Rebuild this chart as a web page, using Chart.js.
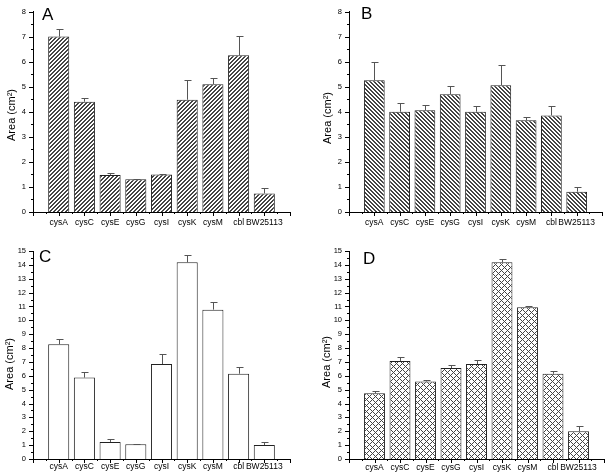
<!DOCTYPE html>
<html>
<head>
<meta charset="UTF-8">
<title>cys mutants area</title>
<script src="https://cdn.jsdelivr.net/npm/chart.js"></script>
<style>
  body { margin: 0; background: #fff; }
  canvas { position: absolute; }
</style>
</head>
<body>
<canvas id="chartA" width="300" height="237" style="left:0;top:0"></canvas>
<canvas id="chartB" width="308" height="237" style="left:300px;top:0"></canvas>
<canvas id="chartC" width="300" height="237" style="left:0;top:237px"></canvas>
<canvas id="chartD" width="308" height="237" style="left:300px;top:237px"></canvas>
<script>
const strains = ['cysA', 'cysC', 'cysE', 'cysG', 'cysI', 'cysK', 'cysM', 'cbl', 'BW25113'];

const areaA = [7.0, 4.40, 1.48, 1.31, 1.50, 4.48, 5.10, 6.25, 0.74];
const errA  = [0.30, 0.16, 0.07, 0.02, 0.03, 0.77, 0.23, 0.77, 0.20];

const areaB = [5.26, 4.00, 4.06, 4.70, 4.00, 5.06, 3.66, 3.85, 0.81];
const errB  = [0.71, 0.36, 0.21, 0.34, 0.22, 0.82, 0.15, 0.39, 0.19];

const areaC = [8.27, 5.87, 1.23, 1.06, 6.85, 14.18, 10.77, 6.15, 1.01];
const errC  = [0.36, 0.40, 0.24, 0.04, 0.72, 0.50, 0.55, 0.48, 0.19];

const areaD = [4.74, 7.07, 5.58, 6.56, 6.85, 14.18, 10.94, 6.15, 2.00];
const errD  = [0.17, 0.26, 0.14, 0.22, 0.29, 0.22, 0.12, 0.17, 0.40];

const yMaxTop = 8;
const yMaxBottom = 15;

// hatch fills
function hatch(size, test) {
  const c = document.createElement('canvas');
  c.width = size; c.height = size;
  const g = c.getContext('2d');
  g.fillStyle = '#fff';
  g.fillRect(0, 0, size, size);
  g.fillStyle = '#444';
  for (let x = 0; x < size; x++)
    for (let y = 0; y < size; y++)
      if (test(x, y)) g.fillRect(x, y, 1, 1);
  return g.createPattern(c, 'repeat');
}
const fillA = hatch(4, (x, y) => (x + y) % 4 < 2);
const fillB = hatch(4, (x, y) => (x - y + 8) % 4 < 2);
const fillD = hatch(6, (x, y) => (x + y) % 6 === 0 || (x - y + 6) % 6 === 0);

// error bars, ticks, titles, panel letters
const extras = {
  id: 'extras',
  afterDatasetsDraw(chart) {
    const o = chart.options.plugins.extras;
    const {ctx, chartArea: a} = chart;
    const ys = chart.scales.y;
    ctx.save();
    // error bars
    ctx.strokeStyle = '#555';
    ctx.lineWidth = 1;
    chart.getDatasetMeta(0).data.forEach((bar, i) => {
      const k = i - 1;
      if (k < 0 || k >= o.vals.length) return;
      const yTop = Math.round(ys.getPixelForValue(o.vals[k] + o.errs[k])) + 0.5;
      const x = Math.round(bar.x) + 0.5;
      ctx.beginPath();
      ctx.moveTo(x, bar.y);
      ctx.lineTo(x, yTop);
      ctx.moveTo(x - 3, yTop);
      ctx.lineTo(x + 4, yTop);
      ctx.stroke();
    });
    // axis ticks
    ctx.strokeStyle = '#000';
    ctx.beginPath();
    for (let v = 0; v <= o.max; v += 0.5) {
      const y = Math.round(ys.getPixelForValue(v)) + 0.5;
      const len = v % 1 === 0 ? 4 : 2;
      ctx.moveTo(a.left - len, y);
      ctx.lineTo(a.left, y);
    }
    for (let v = 0; v <= 10; v += 0.5) {
      const x = Math.round(a.left + (a.right - a.left) * v / 10) + 0.5;
      const len = v % 1 === 0 ? 4 : 2;
      ctx.moveTo(x, a.bottom);
      ctx.lineTo(x, a.bottom + len);
    }
    ctx.stroke();
    // y title
    ctx.fillStyle = '#000';
    ctx.font = '11px "Liberation Sans", Arial, sans-serif';
    ctx.textAlign = 'center';
    ctx.textBaseline = 'middle';
    ctx.translate(o.titleX, o.titleY);
    ctx.rotate(-Math.PI / 2);
    ctx.fillText('Area (cm²)', 0, 0);
    ctx.setTransform(1, 0, 0, 1, 0, 0);
    // panel letter
    ctx.font = '17px "Liberation Sans", Arial, sans-serif';
    ctx.textAlign = 'left';
    ctx.textBaseline = 'alphabetic';
    ctx.fillText(o.letter, o.letterX, o.letterY);
    ctx.restore();
  }
};

function makeChart(id, vals, errs, fill, max, p) {
  new Chart(document.getElementById(id), {
    type: 'bar',
    data: {
      labels: ['', ...strains, ''],
      datasets: [{
        data: [null, ...vals, null],
        backgroundColor: fill,
        borderColor: '#222',
        borderWidth: 1,
        borderSkipped: 'bottom',
        barPercentage: 0.82,
        categoryPercentage: 1
      }]
    },
    options: {
      responsive: false,
      animation: false,
      devicePixelRatio: 1,
      layout: { padding: { left: 0, top: p.top, right: p.right, bottom: 0 } },
      plugins: {
        legend: { display: false },
        tooltip: { enabled: false },
        extras: {
          vals: vals, errs: errs, max: max,
          titleX: p.titleX, titleY: p.titleY,
          letter: p.letter, letterX: p.letterX, letterY: p.letterY
        }
      },
      scales: {
        x: {
          offset: false,
          grid: { display: false, drawTicks: false, offset: false },
          border: { display: true, color: '#000', width: 1 },
          ticks: {
            autoSkip: false, maxRotation: 0, padding: p.xPad,
            color: '#000', font: { family: '"Liberation Sans", Arial, sans-serif', size: 8.5 }
          },
          afterFit: s => { s.height = p.xH; }
        },
        y: {
          min: 0, max: max,
          grid: { display: false, drawTicks: false },
          border: { display: true, color: '#000', width: 1 },
          ticks: {
            stepSize: 1, padding: 7,
            color: '#000', font: { family: '"Liberation Sans", Arial, sans-serif', size: 7.5 }
          },
          afterFit: s => { s.width = p.yW; }
        }
      }
    },
    plugins: [extras]
  });
}

makeChart('chartA', areaA, errA, fillA, yMaxTop,
  { top: 4, right: 10, yW: 33, xH: 25, xPad: 6, titleX: 12, titleY: 115, letter: 'A', letterX: 42, letterY: 20 });
makeChart('chartB', areaB, errB, fillB, yMaxTop,
  { top: 4, right: 2, yW: 49, xH: 25, xPad: 6, titleX: 28, titleY: 118, letter: 'B', letterX: 61, letterY: 19 });
makeChart('chartC', areaC, errC, '#fff', yMaxBottom,
  { top: 14, right: 10, yW: 33, xH: 15, xPad: 3, titleX: 10, titleY: 127, letter: 'C', letterX: 39, letterY: 25 });
makeChart('chartD', areaD, errD, fillD, yMaxBottom,
  { top: 14, right: 2, yW: 49, xH: 15, xPad: 4, titleX: 27, titleY: 125, letter: 'D', letterX: 63, letterY: 27 });
</script>
</body>
</html>
